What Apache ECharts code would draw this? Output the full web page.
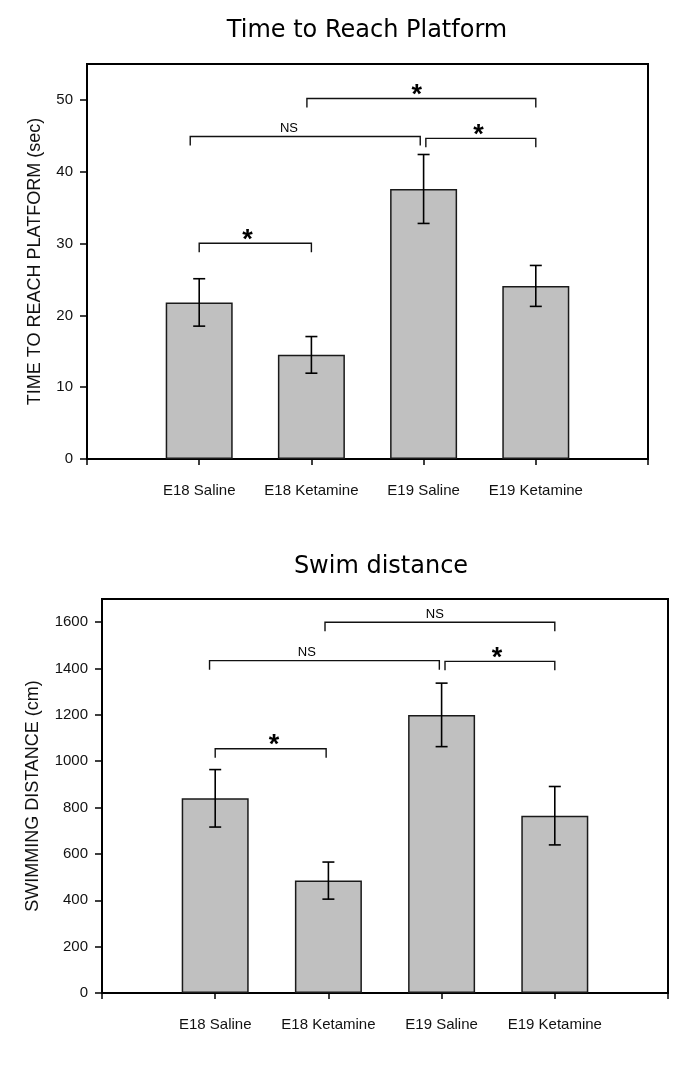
<!DOCTYPE html>
<html>
<head>
<meta charset="utf-8">
<script src="https://cdn.jsdelivr.net/npm/echarts@6/dist/echarts.min.js"></script>
<style>
html,body{margin:0;padding:0;background:#fff;}
#chart{width:685px;height:1089px;}
</style>
</head>
<body>
<div id="chart"></div>
<script>
// ---------- data ----------
var categories = ['E18 Saline', 'E18 Ketamine', 'E19 Saline', 'E19 Ketamine'];
var categoryPos = [1, 2, 3, 4];

// Chart 1: Time to reach platform (sec)
var timeMean = [21.8, 14.5, 37.6, 24.1];
var timeErr = [3.3, 2.55, 4.8, 2.85];
var timeTicks = [0, 10, 20, 30, 40, 50];
var timeBracketFrom = [1.0, 0.92, 3.02, 1.96];
var timeBracketTo = [2.0, 2.97, 4.0, 4.0];
var timeBracketLevel = [30.05, 44.9, 44.65, 50.2];
var timeBracketText = ['*', 'NS', '*', '*'];
var timeBracketTextX = [1.43, 1.80, 3.49, 2.94];

// Chart 2: Swimming distance (cm)
var distMean = [840, 485, 1200, 765];
var distErr = [124, 80, 137, 126];
var distTicks = [0, 200, 400, 600, 800, 1000, 1200, 1400, 1600];
var distBracketFrom = [1.0, 0.95, 3.03, 1.97];
var distBracketTo = [1.98, 2.98, 4.0, 4.0];
var distBracketLevel = [1054, 1434, 1431, 1600];
var distBracketText = ['*', 'NS', '*', 'NS'];
var distBracketTextX = [1.52, 1.81, 3.49, 2.94];

// ---------- helpers ----------
var FONT = "'Liberation Sans', Arial, sans-serif";

function barData(mean) {
  return categoryPos.map(function (x, i) { return [x, mean[i]]; });
}
function errData(mean, err) {
  return categoryPos.map(function (x, i) { return [x, mean[i] - err[i], mean[i] + err[i]]; });
}
function bracketData(from, to, level, textX) {
  return from.map(function (f, i) { return [f, to[i], level[i], textX[i]]; });
}

function renderErr(params, api) {
  var x = api.value(0);
  var lo = api.coord([x, api.value(1)]);
  var hi = api.coord([x, api.value(2)]);
  var cap = 6;
  var st = { stroke: '#000', lineWidth: 1.6 };
  return {
    type: 'group',
    children: [
      { type: 'line', shape: { x1: lo[0], y1: lo[1], x2: hi[0], y2: hi[1] }, style: st },
      { type: 'line', shape: { x1: hi[0] - cap, y1: hi[1], x2: hi[0] + cap, y2: hi[1] }, style: st },
      { type: 'line', shape: { x1: lo[0] - cap, y1: lo[1], x2: lo[0] + cap, y2: lo[1] }, style: st }
    ]
  };
}

function makeBracketRenderer(texts) {
  return function (params, api) {
    var a = api.coord([api.value(0), api.value(2)]);
    var b = api.coord([api.value(1), api.value(2)]);
    var t = api.coord([api.value(3), api.value(2)]);
    var leg = 9;
    var txt = texts[params.dataIndex];
    var isStar = txt === '*';
    return {
      type: 'group',
      children: [
        { type: 'polyline', shape: { points: [[a[0], a[1] + leg], [a[0], a[1]], [b[0], b[1]], [b[0], b[1] + leg]] }, style: { stroke: '#111', lineWidth: 1.4, fill: null } },
        {
          type: 'text', x: t[0], y: isStar ? a[1] - 3 : a[1] - 8,
          style: {
            text: txt, align: 'center', verticalAlign: 'middle', fill: '#000',
            font: isStar ? "bold 27px 'Liberation Sans', Arial, sans-serif" : "13px 'Liberation Sans', Arial, sans-serif"
          }
        }
      ]
    };
  };
}

function xAxisCfg(gridIndex) {
  return {
    type: 'value', gridIndex: gridIndex, min: 0, max: 5, interval: 1,
    axisLine: { lineStyle: { color: '#000', width: 2 } },
    axisTick: { show: true, inside: false, length: 6, lineStyle: { color: '#000', width: 1.5 } },
    axisLabel: {
      margin: 24, color: '#111', fontSize: 15, fontFamily: FONT,
      formatter: function (v) { return categories[v - 1] || ''; }
    },
    splitLine: { show: false }
  };
}

function yAxisCfg(gridIndex, max, interval, ticks, name, gap) {
  return {
    type: 'value', gridIndex: gridIndex, min: 0, max: max, interval: interval,
    name: name, nameLocation: 'middle', nameGap: gap,
    nameTextStyle: { fontSize: 18, fontFamily: FONT, color: '#111' },
    axisLine: { show: true, lineStyle: { color: '#000', width: 2 } },
    axisTick: { show: true, inside: false, length: 7, customValues: ticks, lineStyle: { color: '#000', width: 1.5 } },
    axisLabel: {
      margin: 14, color: '#111', fontSize: 15, fontFamily: FONT, customValues: ticks,
      formatter: function (v) { return String(v); }
    },
    splitLine: { show: false }
  };
}

var barStyle = { color: '#c0c0c0', borderColor: '#1a1a1a', borderWidth: 1.5 };

var option = {
  backgroundColor: '#fff',
  animation: false,
  graphic: [
    { type: 'text', x: 367, y: 31, style: { text: 'Time to Reach Platform', align: 'center', verticalAlign: 'middle', fill: '#000', font: "24px 'DejaVu Sans', sans-serif" } },
    { type: 'text', x: 381, y: 567, style: { text: 'Swim distance', align: 'center', verticalAlign: 'middle', fill: '#000', font: "24px 'DejaVu Sans', sans-serif" } }
  ],
  grid: [
    { left: 87, right: 37, top: 64, bottom: 630, show: true, borderColor: '#000', borderWidth: 2, backgroundColor: 'transparent' },
    { left: 102, right: 17, top: 599, bottom: 96, show: true, borderColor: '#000', borderWidth: 2, backgroundColor: 'transparent' }
  ],
  xAxis: [xAxisCfg(0), xAxisCfg(1)],
  yAxis: [
    yAxisCfg(0, 55, 10, timeTicks, 'TIME TO REACH PLATFORM (sec)', 43),
    yAxisCfg(1, 1700, 200, distTicks, 'SWIMMING DISTANCE (cm)', 60)
  ],
  series: [
    { type: 'bar', xAxisIndex: 0, yAxisIndex: 0, data: barData(timeMean), barWidth: 67, itemStyle: barStyle, z: 2 },
    { type: 'custom', xAxisIndex: 0, yAxisIndex: 0, data: errData(timeMean, timeErr), renderItem: renderErr, z: 3 },
    { type: 'custom', xAxisIndex: 0, yAxisIndex: 0, data: bracketData(timeBracketFrom, timeBracketTo, timeBracketLevel, timeBracketTextX), renderItem: makeBracketRenderer(timeBracketText), z: 3 },
    { type: 'bar', xAxisIndex: 1, yAxisIndex: 1, data: barData(distMean), barWidth: 67, itemStyle: barStyle, z: 2 },
    { type: 'custom', xAxisIndex: 1, yAxisIndex: 1, data: errData(distMean, distErr), renderItem: renderErr, z: 3 },
    { type: 'custom', xAxisIndex: 1, yAxisIndex: 1, data: bracketData(distBracketFrom, distBracketTo, distBracketLevel, distBracketTextX), renderItem: makeBracketRenderer(distBracketText), z: 3 }
  ]
};

var chart = echarts.init(document.getElementById('chart'), null, { renderer: 'canvas' });
chart.setOption(option);
</script>
</body>
</html>
